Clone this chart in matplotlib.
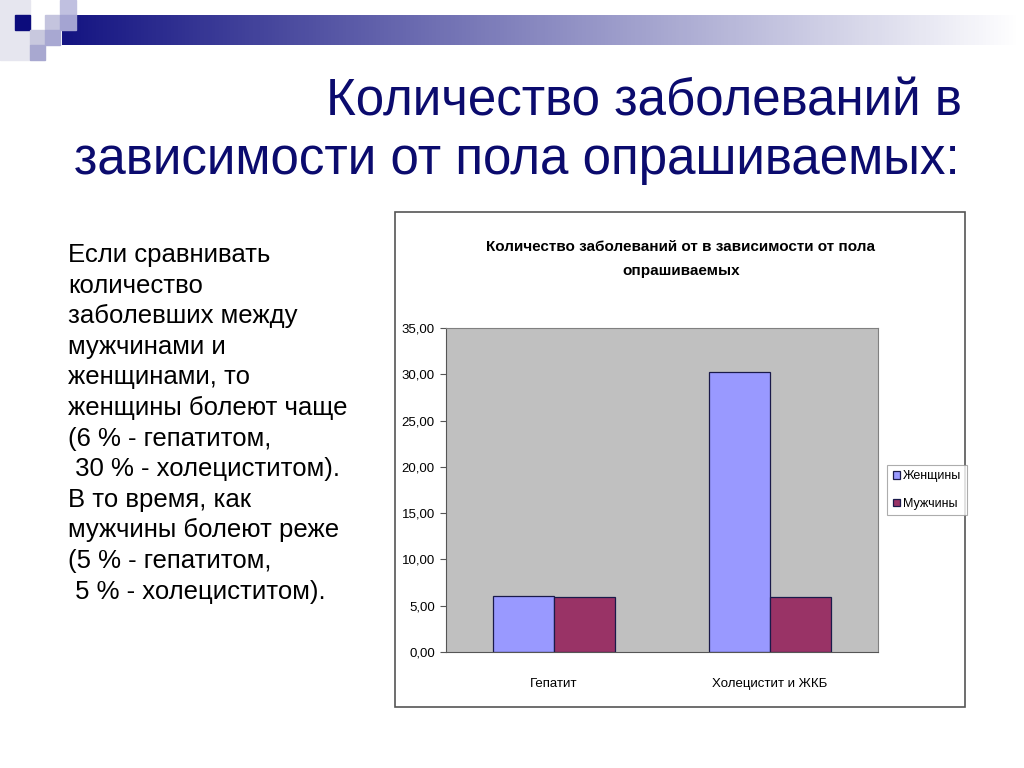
import matplotlib
matplotlib.use('Agg')
import matplotlib.pyplot as plt
from matplotlib.patches import Rectangle
import numpy as np

# Данные диаграммы
categories = ['Гепатит', 'Холецистит и ЖКБ']
series_names = ['Женщины', 'Мужчины']
women = [6.1, 30.3]
men = [5.9, 5.9]
y_ticks = [0, 5, 10, 15, 20, 25, 30, 35]

slide_title = ['Количество заболеваний в', 'зависимости от пола опрашиваемых:']
chart_title = 'Количество заболеваний от в зависимости от пола\nопрашиваемых'
body_lines = [
    'Если сравнивать',
    'количество',
    'заболевших между',
    'мужчинами и',
    'женщинами, то',
    'женщины болеют чаще',
    '(6 % - гепатитом,',
    ' 30 % - холециститом).',
    'В то время, как',
    'мужчины болеют реже',
    '(5 % - гепатитом,',
    ' 5 % - холециститом).',
]

plt.rcParams['font.family'] = ['Liberation Sans', 'DejaVu Sans']

fig = plt.figure(figsize=(10.24, 7.68), dpi=100)
fig.patch.set_facecolor('white')

# Фон слайда в пикселях
bg = fig.add_axes([0, 0, 1, 1])
bg.set_xlim(0, 1024)
bg.set_ylim(768, 0)
bg.axis('off')

# Градиентная полоса вверху
grad = np.linspace(0, 1, 256)
c0 = np.array([20, 20, 130]) / 255
c1 = np.array([255, 255, 255]) / 255
img = (c0[None, :] * (1 - grad[:, None]) + c1[None, :] * grad[:, None])[None, :, :]
bg.imshow(img, extent=(62, 1020, 45, 15), aspect='auto', zorder=1)

# Квадратики в левом углу
squares = [
    (0, 0, 30, 60, '#e6e6ef'),
    (15, 15, 15, 15, '#0c0c7c'),
    (30, 30, 15, 15, '#c8c8de'),
    (45, 15, 15, 15, '#c4c4de'),
    (60, 0, 16, 15, '#c0c0e0'),
    (60, 15, 16, 15, '#a4a4d2'),
    (45, 30, 15, 15, '#a8a8d2'),
    (30, 45, 15, 15, '#a8a8d0'),
]
for x, y, w, h, c in squares:
    bg.add_patch(Rectangle((x, y), w, h, color=c, zorder=2))

# Заголовок слайда
bg.text(962, 116, slide_title[0], ha='right', va='baseline', fontsize=36.8,
        color='#0b0b6e', zorder=3)
bg.text(960, 174, slide_title[1], ha='right', va='baseline', fontsize=36.8,
        color='#0b0b6e', zorder=3)

# Текст слева
for i, line in enumerate(body_lines):
    bg.text(68, 262 + i * 30.6, line, ha='left', va='baseline', fontsize=18.5,
            color='black', zorder=3)

# Рамка диаграммы
bg.add_patch(Rectangle((395, 212), 570, 495, fill=False, edgecolor='#555555',
                       linewidth=1.2, zorder=3))
bg.text(681, 259, chart_title, ha='center', va='center', fontsize=11,
        fontweight='bold', linespacing=1.85, zorder=3)

# Область построения
ax = fig.add_axes([446 / 1024, (768 - 652) / 768, 432 / 1024, 324 / 768])
ax.set_facecolor('#c0c0c0')
x = np.arange(len(categories))
w = 0.283
ax.bar(x - w / 2, women, width=w, color='#9999ff', edgecolor='#1a1a4a',
       linewidth=0.9, label=series_names[0], zorder=2)
ax.bar(x + w / 2, men, width=w, color='#993366', edgecolor='#1a1a4a',
       linewidth=0.9, label=series_names[1], zorder=2)
ax.set_xlim(-0.5, 1.5)
ax.set_ylim(0, 35)
ax.set_yticks(y_ticks)
ax.set_yticklabels([f'{v:.2f}'.replace('.', ',') for v in y_ticks], fontsize=9.5)
ax.set_xticks(x)
ax.set_xticklabels(categories, fontsize=9.5)
ax.tick_params(axis='x', length=0, pad=19)
ax.tick_params(axis='y', length=4, direction='out', color='#555555', pad=4)
for side in ['top', 'right']:
    ax.spines[side].set_color('#808080')
    ax.spines[side].set_linewidth(0.8)
ax.spines['left'].set_color('#555555')
ax.spines['bottom'].set_color('#555555')

# Легенда
leg = fig.legend(loc='center left', bbox_to_anchor=(887 / 1024, 1 - 490 / 768),
                 prop={'size': 9}, frameon=True,
                 handlelength=0.55, handleheight=0.55, handletextpad=0.25,
                 borderpad=0.45, labelspacing=1.25, fancybox=False,
                 borderaxespad=0)
leg.get_frame().set_edgecolor('#999999')
leg.get_frame().set_linewidth(0.8)

fig.savefig('out.png', dpi=100)
